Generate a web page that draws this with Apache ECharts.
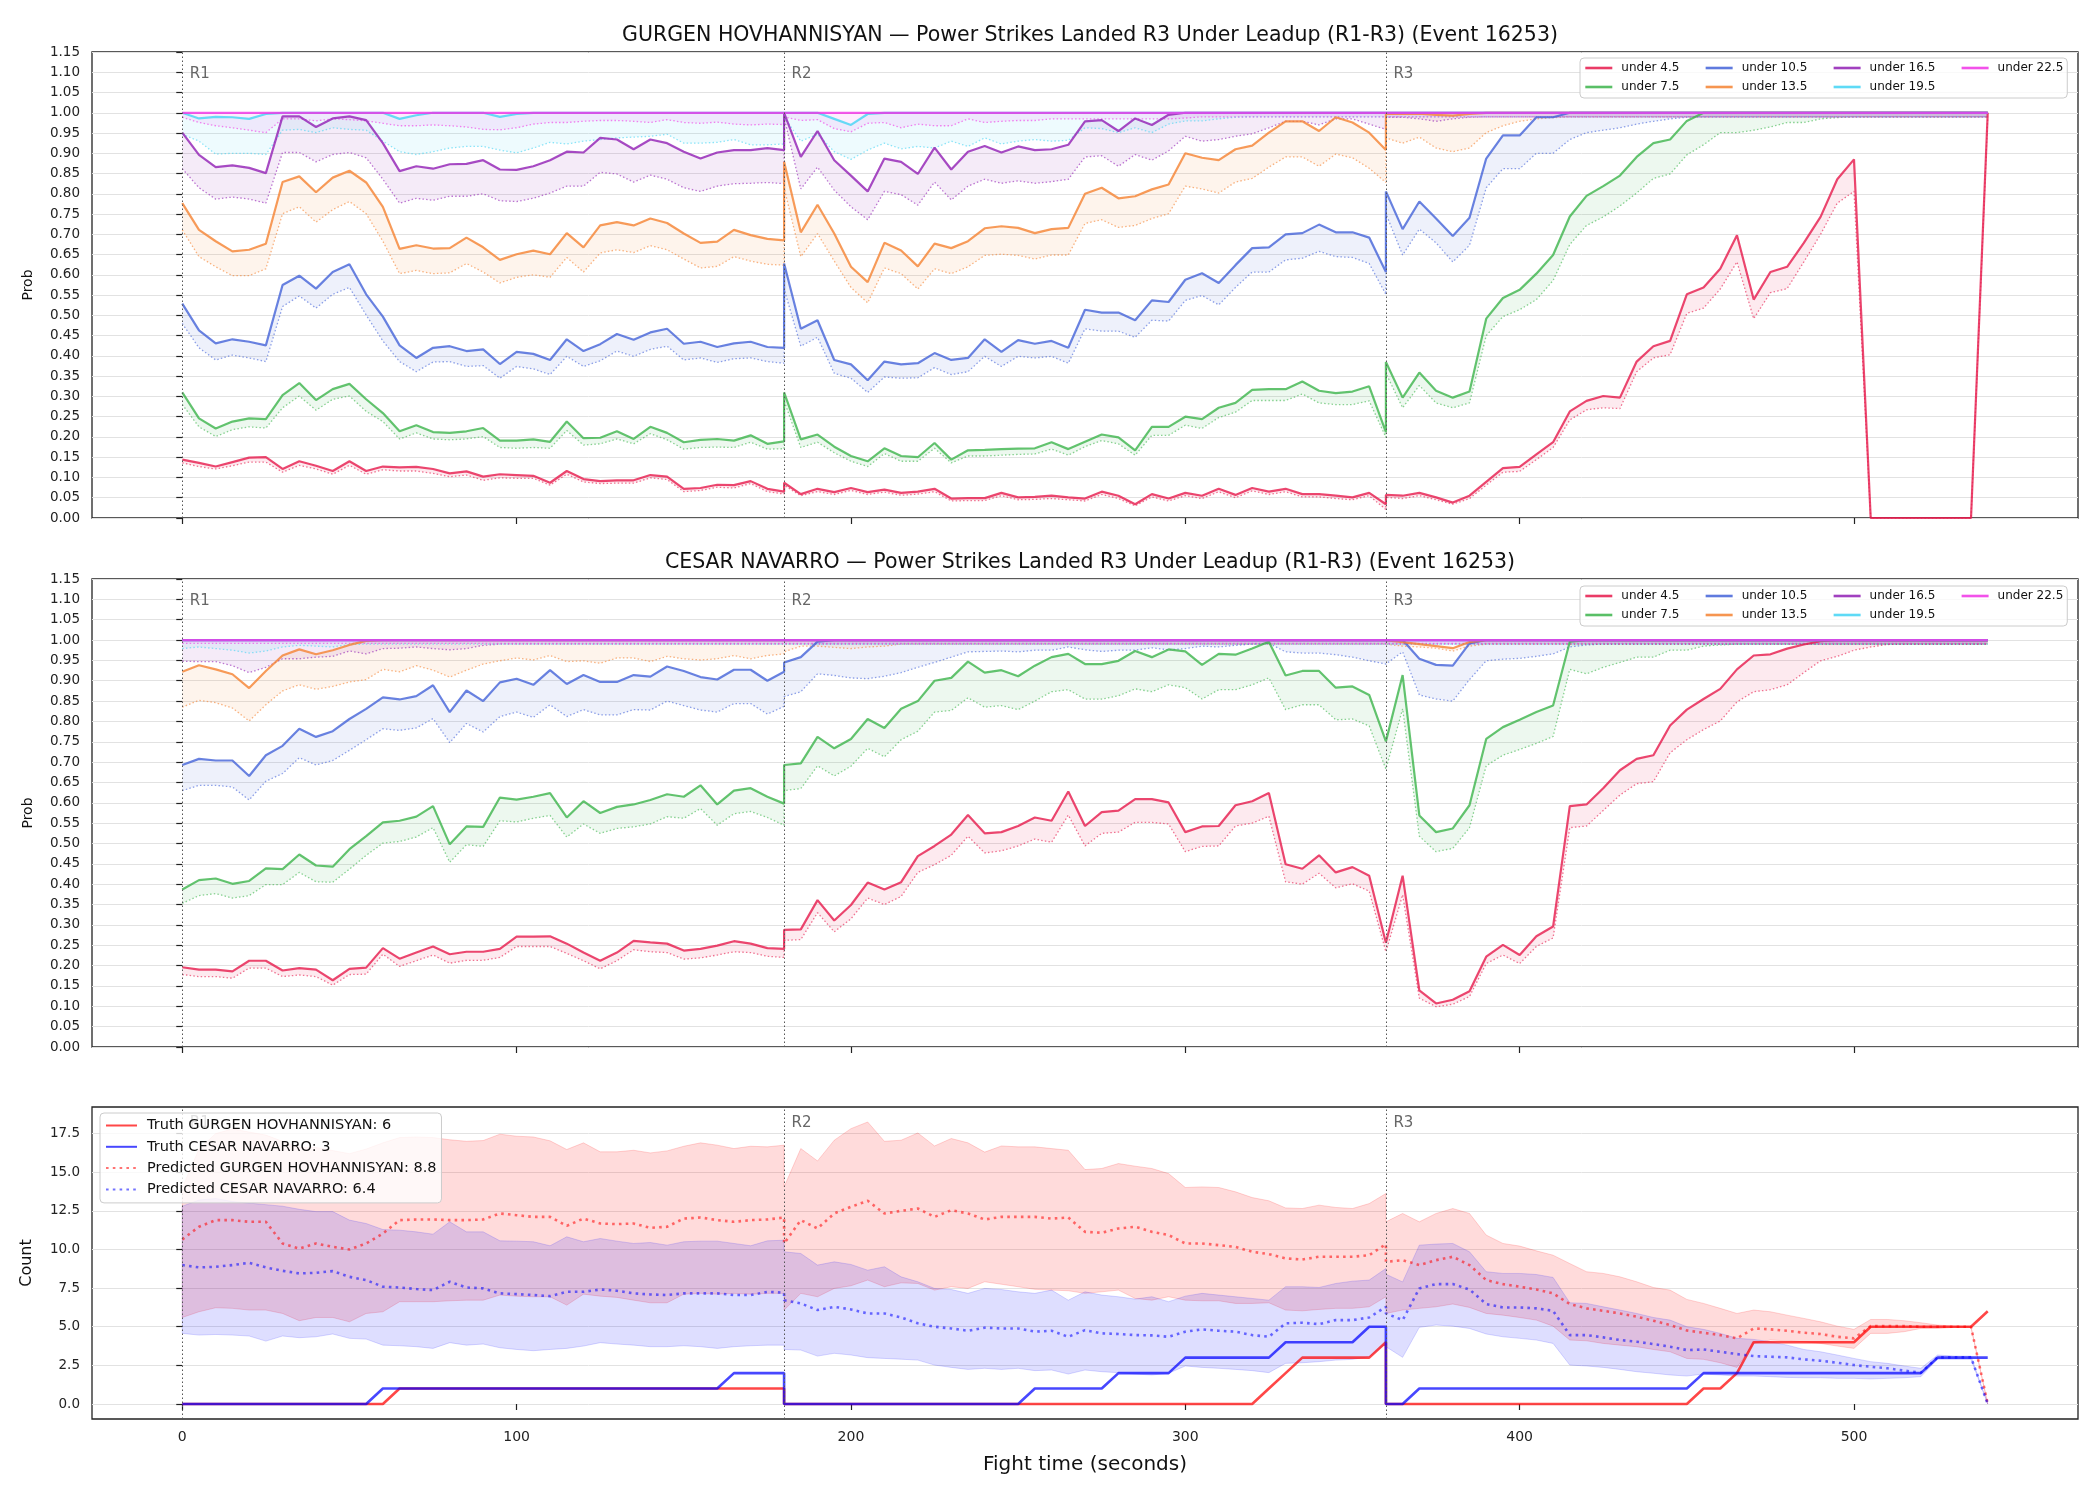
<!DOCTYPE html>
<html><head><meta charset="utf-8">
<script src="https://cdn.jsdelivr.net/npm/echarts@6/dist/echarts.min.js"></script>
<style>html,body{margin:0;padding:0;background:#fff}#c{width:2100px;height:1500px}</style>
</head><body><div id="c"></div><script>
// ---------------- DATA ----------------
const roundStarts = [0, 180, 360];
const roundSeconds = [0,5,10,15,20,25,30,35,40,45,50,55,60,65,70,75,80,85,90,95,100,105,110,115,120,125,130,135,140,145,150,155,160,165,170,175,180];
const roundNames = ['R1','R2','R3'];
const thresholds = ['under 4.5','under 7.5','under 10.5','under 13.5','under 16.5','under 19.5','under 22.5'];
const xTicks = [0,100,200,300,400,500];
const countTicks = [0,2.5,5,7.5,10,12.5,15,17.5];
const titleG = 'GURGEN HOVHANNISYAN — Power Strikes Landed R3 Under Leadup (R1-R3) (Event 16253)';
const titleC = 'CESAR NAVARRO — Power Strikes Landed R3 Under Leadup (R1-R3) (Event 16253)';

// GURGEN panel: main lines
const G_u45 = [0.144,0.136,0.127,0.138,0.149,0.150,0.121,0.140,0.129,0.116,0.140,0.116,0.127,0.125,0.126,0.121,0.110,0.115,0.102,0.108,0.106,0.104,0.087,0.116,0.096,0.091,0.093,0.093,0.106,0.102,0.072,0.074,0.082,0.081,0.091,0.072,0.065,
 0.087,0.059,0.072,0.064,0.074,0.064,0.070,0.062,0.065,0.072,0.048,0.049,0.049,0.062,0.051,0.052,0.055,0.051,0.048,0.065,0.055,0.034,0.059,0.048,0.062,0.055,0.072,0.057,0.074,0.065,0.072,0.059,0.059,0.055,0.051,0.062,0.034,
 0.057,0.055,0.062,0.051,0.038,0.055,0.089,0.123,0.126,0.157,0.187,0.263,0.289,0.301,0.297,0.386,0.424,0.437,0.552,0.569,0.615,0.698,0.539,0.607,0.620,0.679,0.743,0.836,0.885,0,0,0,0,0,0,0,1.0];
const G_u75 = [0.310,0.246,0.221,0.238,0.246,0.244,0.303,0.333,0.291,0.318,0.331,0.293,0.259,0.214,0.229,0.212,0.210,0.214,0.222,0.191,0.191,0.194,0.188,0.238,0.197,0.198,0.214,0.195,0.225,0.210,0.187,0.193,0.195,0.191,0.204,0.183,0.189,
 0.310,0.194,0.206,0.176,0.153,0.140,0.172,0.153,0.150,0.185,0.144,0.167,0.168,0.170,0.171,0.172,0.187,0.170,0.188,0.206,0.199,0.167,0.225,0.225,0.250,0.244,0.272,0.284,0.316,0.318,0.318,0.337,0.314,0.308,0.312,0.325,0.212,
 0.385,0.297,0.359,0.314,0.297,0.312,0.492,0.543,0.563,0.603,0.649,0.744,0.795,0.819,0.845,0.891,0.925,0.934,0.980,1,1,1,1,1,1,1,1,1,1,1,1,1,1,1,1,1,1];
const G_u105 = [0.529,0.463,0.431,0.441,0.435,0.426,0.575,0.598,0.566,0.607,0.626,0.552,0.497,0.426,0.395,0.420,0.424,0.412,0.416,0.380,0.410,0.405,0.390,0.441,0.412,0.429,0.454,0.440,0.458,0.467,0.430,0.435,0.422,0.431,0.435,0.422,0.420,
 0.628,0.467,0.488,0.390,0.379,0.340,0.386,0.379,0.382,0.407,0.390,0.395,0.441,0.410,0.439,0.430,0.437,0.420,0.514,0.507,0.507,0.488,0.537,0.533,0.588,0.604,0.580,0.624,0.666,0.668,0.700,0.703,0.724,0.705,0.705,0.692,0.607,
 0.806,0.713,0.781,0.739,0.696,0.741,0.887,0.944,0.944,0.989,0.989,1,1,1,1,1,1,1,1,1,1,1,1,1,1,1,1,1,1,1,1,1,1,1,1,1,1];
const G_u135 = [0.777,0.711,0.683,0.658,0.662,0.677,0.829,0.843,0.804,0.840,0.857,0.828,0.768,0.664,0.673,0.665,0.666,0.692,0.668,0.637,0.651,0.660,0.651,0.703,0.668,0.722,0.730,0.722,0.739,0.728,0.702,0.679,0.682,0.711,0.698,0.689,0.685,
 0.879,0.705,0.773,0.702,0.620,0.582,0.679,0.660,0.621,0.677,0.666,0.683,0.715,0.720,0.716,0.703,0.713,0.716,0.800,0.815,0.789,0.794,0.811,0.823,0.900,0.889,0.883,0.910,0.919,0.951,0.979,0.979,0.955,0.989,0.976,0.951,0.908,
 0.998,0.997,0.998,0.995,0.993,0.997,1,1,1,1,1,1,1,1,1,1,1,1,1,1,1,1,1,1,1,1,1,1,1,1,1,1,1,1,1,1,1];
const G_u165 = [0.951,0.896,0.866,0.870,0.864,0.851,0.991,0.991,0.965,0.986,0.991,0.982,0.925,0.856,0.868,0.862,0.873,0.874,0.883,0.860,0.859,0.868,0.883,0.904,0.902,0.938,0.934,0.910,0.934,0.925,0.904,0.887,0.902,0.908,0.908,0.913,0.908,
 1,0.891,0.955,0.883,0.845,0.806,0.887,0.879,0.849,0.914,0.860,0.904,0.918,0.902,0.917,0.908,0.910,0.921,0.979,0.982,0.955,0.986,0.970,0.995,1,1,1,1,1,1,1,1,1,1,1,1,1,
 1,1,1,1,1,1,1,1,1,1,1,1,1,1,1,1,1,1,1,1,1,1,1,1,1,1,1,1,1,1,1,1,1,1,1,1,1];
const G_u195 = [1,0.986,0.990,0.989,0.985,0.997,1,1,1,1,1,1,1,0.985,0.994,1,1,1,1,0.990,0.997,1,1,1,1,1,1,1,1,1,1,1,1,1,1,1,1,
 1,1,1,0.985,0.970,0.997,1,1,1,1,1,1,1,1,1,1,1,1,1,1,1,1,1,1,1,1,1,1,1,1,1,1,1,1,1,1,1,
 1,1,1,1,1,1,1,1,1,1,1,1,1,1,1,1,1,1,1,1,1,1,1,1,1,1,1,1,1,1,1,1,1,1,1,1,1];
const G_u225 = [1,1,1,1,1,1,1,1,1,1,1,1,1,1,1,1,1,1,1,1,1,1,1,1,1,1,1,1,1,1,1,1,1,1,1,1,1,
 1,1,1,1,1,1,1,1,1,1,1,1,1,1,1,1,1,1,1,1,1,1,1,1,1,1,1,1,1,1,1,1,1,1,1,1,1,
 1,1,1,1,1,1,1,1,1,1,1,1,1,1,1,1,1,1,1,1,1,1,1,1,1,1,1,1,1,1,1,1,1,1,1,1,1];
// GURGEN panel: lower (dotted) lines
const G_u45_lo = [0.136,0.127,0.121,0.129,0.138,0.138,0.113,0.130,0.121,0.108,0.130,0.108,0.119,0.116,0.116,0.110,0.102,0.106,0.093,0.099,0.098,0.098,0.081,0.108,0.089,0.085,0.086,0.086,0.099,0.095,0.065,0.068,0.076,0.074,0.085,0.065,0.059,
 0.081,0.055,0.065,0.058,0.068,0.058,0.064,0.056,0.059,0.065,0.042,0.043,0.043,0.055,0.045,0.046,0.048,0.045,0.042,0.058,0.048,0.030,0.052,0.042,0.055,0.048,0.065,0.050,0.067,0.058,0.065,0.052,0.052,0.048,0.045,0.055,0.021,
 0.051,0.048,0.055,0.045,0.034,0.048,0.081,0.113,0.115,0.144,0.174,0.242,0.267,0.272,0.270,0.361,0.395,0.403,0.505,0.518,0.565,0.632,0.492,0.556,0.566,0.632,0.700,0.777,0.806,0,0,0,0,0,0,0,0.99];
const G_u75_lo = [0.280,0.225,0.201,0.218,0.225,0.222,0.272,0.301,0.266,0.293,0.301,0.263,0.238,0.195,0.210,0.195,0.193,0.195,0.201,0.174,0.172,0.174,0.172,0.216,0.180,0.183,0.195,0.183,0.208,0.193,0.170,0.174,0.175,0.174,0.187,0.170,0.171,
 0.289,0.174,0.187,0.161,0.140,0.127,0.159,0.140,0.140,0.172,0.136,0.153,0.153,0.155,0.157,0.158,0.170,0.155,0.176,0.191,0.183,0.155,0.204,0.204,0.229,0.221,0.248,0.261,0.290,0.290,0.290,0.306,0.284,0.280,0.280,0.289,0.199,
 0.357,0.272,0.327,0.284,0.272,0.284,0.450,0.497,0.514,0.539,0.586,0.675,0.722,0.743,0.770,0.802,0.838,0.849,0.896,0.921,0.951,0.951,0.957,0.965,0.976,0.976,0.985,0.988,0.990,0.99,0.99,0.99,0.99,0.99,0.99,0.99,0.99];
const G_u105_lo = [0.480,0.420,0.390,0.402,0.395,0.386,0.522,0.548,0.518,0.552,0.569,0.501,0.437,0.386,0.361,0.385,0.386,0.374,0.376,0.345,0.374,0.368,0.354,0.399,0.374,0.388,0.412,0.399,0.416,0.424,0.390,0.395,0.384,0.393,0.395,0.386,0.382,
 0.565,0.424,0.446,0.357,0.345,0.310,0.348,0.345,0.346,0.371,0.354,0.361,0.399,0.374,0.399,0.395,0.399,0.382,0.467,0.461,0.461,0.446,0.488,0.486,0.537,0.549,0.526,0.569,0.607,0.607,0.637,0.641,0.658,0.645,0.643,0.628,0.552,
 0.751,0.649,0.713,0.679,0.632,0.673,0.815,0.862,0.862,0.900,0.900,0.934,0.951,0.957,0.963,0.972,0.979,0.985,0.989,0.99,0.99,0.99,0.99,0.99,0.99,0.99,0.99,0.99,0.99,0.99,0.99,0.99,0.99,0.99,0.99,0.99,0.99];
const G_u135_lo = [0.711,0.645,0.620,0.598,0.598,0.615,0.751,0.768,0.730,0.761,0.781,0.751,0.683,0.603,0.611,0.603,0.605,0.628,0.607,0.580,0.594,0.600,0.594,0.643,0.607,0.654,0.662,0.655,0.672,0.662,0.639,0.617,0.621,0.645,0.634,0.626,0.624,
 0.815,0.645,0.702,0.634,0.569,0.531,0.617,0.603,0.565,0.615,0.603,0.620,0.648,0.651,0.648,0.639,0.649,0.649,0.727,0.736,0.717,0.722,0.739,0.751,0.819,0.812,0.802,0.829,0.838,0.866,0.891,0.891,0.868,0.898,0.889,0.863,0.828,
 0.938,0.925,0.940,0.913,0.904,0.913,0.951,0.968,0.979,0.985,0.988,0.99,0.99,0.99,0.99,0.99,0.99,0.99,0.99,0.99,0.99,0.99,0.99,0.99,0.99,0.99,0.99,0.99,0.99,0.99,0.99,0.99,0.99,0.99,0.99,0.99,0.99];
const G_u165_lo = [0.862,0.815,0.787,0.792,0.787,0.777,0.902,0.902,0.879,0.897,0.902,0.889,0.836,0.777,0.789,0.784,0.794,0.794,0.800,0.783,0.781,0.789,0.802,0.819,0.819,0.853,0.849,0.829,0.846,0.836,0.815,0.806,0.819,0.825,0.826,0.828,0.825,
 0.989,0.812,0.866,0.809,0.768,0.736,0.806,0.798,0.772,0.829,0.785,0.819,0.836,0.826,0.832,0.826,0.830,0.836,0.891,0.894,0.868,0.897,0.883,0.906,0.942,0.930,0.934,0.942,0.948,0.963,0.979,0.979,0.970,0.985,0.985,0.972,0.959,
 0.989,0.989,0.985,0.979,0.985,0.989,0.99,0.99,0.99,0.99,0.99,0.99,0.99,0.99,0.99,0.99,0.99,0.99,0.99,0.99,0.99,0.99,0.99,0.99,0.99,0.99,0.99,0.99,0.99,0.99,0.99,0.99,0.99,0.99,0.99,0.99,0.99];
const G_u195_lo = [0.947,0.930,0.898,0.900,0.900,0.897,0.957,0.959,0.951,0.963,0.959,0.957,0.930,0.904,0.897,0.904,0.913,0.917,0.917,0.908,0.901,0.913,0.927,0.923,0.930,0.934,0.938,0.940,0.942,0.947,0.925,0.925,0.927,0.934,0.921,0.921,0.923,
 0.989,0.930,0.947,0.904,0.885,0.908,0.925,0.911,0.917,0.913,0.930,0.917,0.938,0.923,0.930,0.934,0.930,0.932,0.963,0.961,0.951,0.963,0.951,0.972,0.980,0.980,0.985,0.989,0.990,0.99,0.99,0.99,0.99,0.99,0.99,0.99,0.99,
 0.99,0.99,0.99,0.99,0.99,0.99,0.99,0.99,0.99,0.99,0.99,0.99,0.99,0.99,0.99,0.99,0.99,0.99,0.99,0.99,0.99,0.99,0.99,0.99,0.99,0.99,0.99,0.99,0.99,0.99,0.99,0.99,0.99,0.99,0.99,0.99,0.99];
const G_u225_lo = [0.989,0.976,0.968,0.963,0.957,0.951,0.985,0.985,0.980,0.985,0.983,0.980,0.974,0.968,0.968,0.970,0.968,0.965,0.959,0.958,0.963,0.972,0.976,0.976,0.979,0.981,0.981,0.979,0.976,0.983,0.976,0.974,0.977,0.972,0.970,0.972,0.971,
 0.990,0.981,0.983,0.961,0.953,0.974,0.976,0.963,0.972,0.968,0.968,0.985,0.976,0.979,0.981,0.981,0.985,0.985,0.985,0.985,0.985,0.985,0.985,0.985,0.987,0.99,0.99,0.99,0.99,0.99,0.99,0.99,0.99,0.99,0.99,0.99,0.99,
 0.99,0.99,0.99,0.99,0.99,0.99,0.99,0.99,0.99,0.99,0.99,0.99,0.99,0.99,0.99,0.99,0.99,0.99,0.99,0.99,0.99,0.99,0.99,0.99,0.99,0.99,0.99,0.99,0.99,0.99,0.99,0.99,0.99,0.99,0.99,0.99,0.99];

// CESAR panel: main lines
const C_u45 = [0.196,0.190,0.190,0.186,0.212,0.212,0.188,0.194,0.190,0.164,0.192,0.195,0.243,0.217,0.232,0.247,0.228,0.234,0.234,0.241,0.271,0.271,0.272,0.254,0.232,0.212,0.232,0.261,0.257,0.254,0.237,0.241,0.249,0.260,0.254,0.243,0.241,
 0.288,0.289,0.361,0.311,0.349,0.404,0.387,0.405,0.469,0.494,0.522,0.570,0.525,0.528,0.543,0.564,0.556,0.628,0.543,0.577,0.581,0.609,0.609,0.601,0.528,0.542,0.543,0.594,0.604,0.624,0.449,0.438,0.471,0.429,0.442,0.421,0.256,
 0.256,0.421,0.139,0.107,0.116,0.137,0.222,0.251,0.226,0.272,0.296,0.592,0.596,0.636,0.680,0.708,0.717,0.790,0.829,0.855,0.880,0.928,0.962,0.965,0.979,0.989,0.997,1,1,1,1,1,1,1,1,1,1];
const C_u75 = [0.387,0.410,0.414,0.401,0.408,0.439,0.437,0.473,0.446,0.443,0.486,0.518,0.552,0.556,0.566,0.592,0.498,0.542,0.541,0.613,0.608,0.615,0.624,0.564,0.604,0.575,0.590,0.596,0.607,0.621,0.615,0.643,0.596,0.630,0.636,0.615,0.598,
 0.693,0.697,0.762,0.734,0.757,0.806,0.784,0.831,0.850,0.900,0.907,0.947,0.920,0.926,0.911,0.937,0.958,0.966,0.941,0.941,0.949,0.973,0.958,0.977,0.972,0.939,0.966,0.964,0.979,0.996,0.913,0.924,0.924,0.883,0.886,0.865,0.751,
 0.751,0.914,0.569,0.528,0.537,0.594,0.757,0.786,0.804,0.823,0.839,0.996,1,1,1,1,1,1,1,1,1,1,1,1,1,1,1,1,1,1,1,1,1,1,1,1,1];
const C_u105 = [0.693,0.708,0.704,0.704,0.666,0.717,0.740,0.782,0.762,0.776,0.806,0.831,0.859,0.854,0.862,0.889,0.823,0.876,0.850,0.896,0.905,0.890,0.926,0.892,0.914,0.897,0.897,0.914,0.910,0.935,0.924,0.909,0.903,0.927,0.927,0.900,0.922,
 0.945,0.958,0.996,1,1,1,1,1,1,1,1,1,1,1,1,1,1,1,1,1,1,1,1,1,1,1,1,1,1,1,1,1,1,1,1,1,1,
 1,1,0.954,0.939,0.937,0.992,1,1,1,1,1,1,1,1,1,1,1,1,1,1,1,1,1,1,1,1,1,1,1,1,1,1,1,1,1,1,1];
const C_u135 = [0.922,0.938,0.928,0.916,0.882,0.924,0.962,0.977,0.965,0.975,0.988,0.998,1,1,1,1,1,1,1,1,1,1,1,1,1,1,1,1,1,1,1,1,1,1,1,1,1,
 1,1,1,1,1,1,1,1,1,1,1,1,1,1,1,1,1,1,1,1,1,1,1,1,1,1,1,1,1,1,1,1,1,1,1,1,1,
 1,0.995,0.990,0.985,0.980,0.995,1,1,1,1,1,1,1,1,1,1,1,1,1,1,1,1,1,1,1,1,1,1,1,1,1,1,1,1,1,1,1];
const C_u165 = [1,1,1,1,1,1,1,1,1,1,1,1,1,1,1,1,1,1,1,1,1,1,1,1,1,1,1,1,1,1,1,1,1,1,1,1,1,
 1,1,1,1,1,1,1,1,1,1,1,1,1,1,1,1,1,1,1,1,1,1,1,1,1,1,1,1,1,1,1,1,1,1,1,1,1,
 1,1,1,1,1,1,1,1,1,1,1,1,1,1,1,1,1,1,1,1,1,1,1,1,1,1,1,1,1,1,1,1,1,1,1,1,1];
const C_u195 = [1,1,1,1,1,1,1,1,1,1,1,1,1,1,1,1,1,1,1,1,1,1,1,1,1,1,1,1,1,1,1,1,1,1,1,1,1,
 1,1,1,1,1,1,1,1,1,1,1,1,1,1,1,1,1,1,1,1,1,1,1,1,1,1,1,1,1,1,1,1,1,1,1,1,1,
 1,1,1,1,1,1,1,1,1,1,1,1,1,1,1,1,1,1,1,1,1,1,1,1,1,1,1,1,1,1,1,1,1,1,1,1,1];
const C_u225 = [1,1,1,1,1,1,1,1,1,1,1,1,1,1,1,1,1,1,1,1,1,1,1,1,1,1,1,1,1,1,1,1,1,1,1,1,1,
 1,1,1,1,1,1,1,1,1,1,1,1,1,1,1,1,1,1,1,1,1,1,1,1,1,1,1,1,1,1,1,1,1,1,1,1,1,
 1,1,1,1,1,1,1,1,1,1,1,1,1,1,1,1,1,1,1,1,1,1,1,1,1,1,1,1,1,1,1,1,1,1,1,1,1];
// CESAR panel: lower (dotted) lines
const C_u45_lo = [0.178,0.173,0.173,0.169,0.194,0.194,0.173,0.177,0.173,0.152,0.178,0.179,0.228,0.198,0.212,0.226,0.206,0.213,0.213,0.220,0.247,0.247,0.247,0.230,0.212,0.192,0.212,0.239,0.234,0.232,0.216,0.219,0.226,0.234,0.232,0.223,0.220,
 0.262,0.264,0.330,0.283,0.315,0.366,0.350,0.370,0.429,0.448,0.471,0.518,0.477,0.482,0.494,0.511,0.503,0.570,0.494,0.525,0.528,0.552,0.552,0.548,0.480,0.493,0.494,0.543,0.550,0.567,0.406,0.400,0.427,0.391,0.401,0.383,0.234,
 0.234,0.374,0.120,0.099,0.105,0.124,0.205,0.226,0.205,0.247,0.268,0.539,0.543,0.581,0.619,0.647,0.652,0.723,0.755,0.780,0.801,0.848,0.873,0.878,0.890,0.920,0.949,0.960,0.975,0.983,0.989,0.99,0.99,0.99,0.99,0.99,0.99];
const C_u75_lo = [0.353,0.372,0.377,0.366,0.372,0.399,0.399,0.429,0.406,0.405,0.437,0.471,0.501,0.505,0.516,0.539,0.454,0.497,0.493,0.556,0.553,0.562,0.569,0.516,0.548,0.525,0.537,0.541,0.548,0.566,0.562,0.586,0.545,0.573,0.579,0.564,0.545,
 0.630,0.635,0.691,0.666,0.690,0.734,0.713,0.755,0.776,0.823,0.827,0.858,0.835,0.839,0.829,0.850,0.873,0.878,0.855,0.855,0.863,0.880,0.873,0.890,0.883,0.855,0.878,0.878,0.890,0.907,0.829,0.841,0.841,0.804,0.806,0.789,0.683,
 0.683,0.831,0.518,0.480,0.488,0.539,0.691,0.717,0.731,0.746,0.763,0.928,0.917,0.933,0.945,0.958,0.958,0.975,0.975,0.985,0.988,0.99,0.99,0.99,0.99,0.99,0.99,0.99,0.99,0.99,0.99,0.99,0.99,0.99,0.99,0.99,0.99];
const C_u105_lo = [0.630,0.643,0.643,0.639,0.607,0.653,0.672,0.711,0.693,0.704,0.729,0.755,0.782,0.778,0.784,0.807,0.748,0.795,0.774,0.812,0.823,0.810,0.841,0.812,0.829,0.816,0.816,0.829,0.828,0.850,0.839,0.828,0.823,0.844,0.844,0.818,0.837,
 0.861,0.873,0.917,0.913,0.907,0.905,0.911,0.920,0.933,0.945,0.958,0.971,0.972,0.973,0.971,0.975,0.975,0.983,0.976,0.972,0.975,0.975,0.981,0.976,0.979,0.985,0.983,0.987,0.990,0.992,0.971,0.968,0.968,0.964,0.958,0.949,0.941,
 0.941,0.971,0.865,0.855,0.850,0.903,0.949,0.953,0.955,0.960,0.966,0.983,0.988,0.990,0.99,0.99,0.99,0.99,0.99,0.99,0.99,0.99,0.99,0.99,0.99,0.99,0.99,0.99,0.99,0.99,0.99,0.99,0.99,0.99,0.99,0.99,0.99];
const C_u135_lo = [0.835,0.852,0.846,0.833,0.801,0.841,0.875,0.890,0.879,0.886,0.897,0.903,0.928,0.922,0.937,0.926,0.909,0.926,0.941,0.949,0.956,0.951,0.962,0.947,0.949,0.943,0.956,0.956,0.947,0.960,0.954,0.951,0.954,0.962,0.954,0.962,0.966,
 0.971,0.985,0.985,0.982,0.979,0.983,0.985,0.99,0.99,0.99,0.99,0.99,0.99,0.99,0.99,0.99,0.99,0.99,0.99,0.99,0.99,0.99,0.99,0.99,0.99,0.99,0.99,0.99,0.99,0.99,0.99,0.99,0.99,0.99,0.99,0.99,0.99,
 0.990,0.985,0.983,0.980,0.973,0.985,0.99,0.99,0.99,0.99,0.99,0.99,0.99,0.99,0.99,0.99,0.99,0.99,0.99,0.99,0.99,0.99,0.99,0.99,0.99,0.99,0.99,0.99,0.99,0.99,0.99,0.99,0.99,0.99,0.99,0.99,0.99];
const C_u165_lo = [0.948,0.947,0.947,0.937,0.920,0.933,0.954,0.954,0.958,0.960,0.973,0.966,0.979,0.980,0.983,0.979,0.976,0.979,0.987,0.99,0.99,0.99,0.99,0.99,0.99,0.99,0.99,0.99,0.99,0.99,0.99,0.99,0.99,0.99,0.99,0.99,0.99,
 0.99,0.99,0.99,0.99,0.99,0.99,0.99,0.99,0.99,0.99,0.99,0.99,0.99,0.99,0.99,0.99,0.99,0.99,0.99,0.99,0.99,0.99,0.99,0.99,0.99,0.99,0.99,0.99,0.99,0.99,0.99,0.99,0.99,0.99,0.99,0.99,0.99,
 0.99,0.99,0.99,0.99,0.99,0.99,0.99,0.99,0.99,0.99,0.99,0.99,0.99,0.99,0.99,0.99,0.99,0.99,0.99,0.99,0.99,0.99,0.99,0.99,0.99,0.99,0.99,0.99,0.99,0.99,0.99,0.99,0.99,0.99,0.99,0.99,0.99];
const C_u195_lo = [0.979,0.983,0.979,0.975,0.968,0.973,0.983,0.987,0.985,0.983,0.989,0.99,0.99,0.99,0.99,0.99,0.99,0.99,0.99,0.99,0.99,0.99,0.99,0.99,0.99,0.99,0.99,0.99,0.99,0.99,0.99,0.99,0.99,0.99,0.99,0.99,0.99,
 0.99,0.99,0.99,0.99,0.99,0.99,0.99,0.99,0.99,0.99,0.99,0.99,0.99,0.99,0.99,0.99,0.99,0.99,0.99,0.99,0.99,0.99,0.99,0.99,0.99,0.99,0.99,0.99,0.99,0.99,0.99,0.99,0.99,0.99,0.99,0.99,0.99,
 0.99,0.99,0.99,0.99,0.99,0.99,0.99,0.99,0.99,0.99,0.99,0.99,0.99,0.99,0.99,0.99,0.99,0.99,0.99,0.99,0.99,0.99,0.99,0.99,0.99,0.99,0.99,0.99,0.99,0.99,0.99,0.99,0.99,0.99,0.99,0.99,0.99];
const C_u225_lo = [0.992,0.992,0.992,0.992,0.992,0.992,0.992,0.992,0.992,0.992,0.992,0.992,0.992,0.992,0.992,0.992,0.992,0.992,0.992,0.992,0.992,0.992,0.992,0.992,0.992,0.992,0.992,0.992,0.992,0.992,0.992,0.992,0.992,0.992,0.992,0.992,0.992,
 0.992,0.992,0.992,0.992,0.992,0.992,0.992,0.992,0.992,0.992,0.992,0.992,0.992,0.992,0.992,0.992,0.992,0.992,0.992,0.992,0.992,0.992,0.992,0.992,0.992,0.992,0.992,0.992,0.992,0.992,0.992,0.992,0.992,0.992,0.992,0.992,0.992,
 0.992,0.992,0.992,0.992,0.992,0.992,0.992,0.992,0.992,0.992,0.992,0.992,0.992,0.992,0.992,0.992,0.992,0.992,0.992,0.992,0.992,0.992,0.992,0.992,0.992,0.992,0.992,0.992,0.992,0.992,0.992,0.992,0.992,0.992,0.992,0.992,0.992];

// Count panel
const truthG = [0,0,0,0,0,0,0,0,0,0,0,0,0,1,1,1,1,1,1,1,1,1,1,1,1,1,1,1,1,1,1,1,1,1,1,1,1,
 0,0,0,0,0,0,0,0,0,0,0,0,0,0,0,0,0,0,0,0,0,0,0,0,0,0,0,0,0,1,2,3,3,3,3,3,4,
 0,0,0,0,0,0,0,0,0,0,0,0,0,0,0,0,0,0,0,1,1,2,4,4,4,4,4,4,4,5,5,5,5,5,5,5,6];
const truthC = [0,0,0,0,0,0,0,0,0,0,0,0,1,1,1,1,1,1,1,1,1,1,1,1,1,1,1,1,1,1,1,1,1,2,2,2,2,
 0,0,0,0,0,0,0,0,0,0,0,0,0,0,0,1,1,1,1,1,2,2,2,2,3,3,3,3,3,3,4,4,4,4,4,5,5,
 0,0,1,1,1,1,1,1,1,1,1,1,1,1,1,1,1,1,1,2,2,2,2,2,2,2,2,2,2,2,2,2,2,3,3,3,3];
const predG = [10.65,11.47,11.9,11.9,11.79,11.79,10.39,10.06,10.39,10.17,10.0,10.39,11.03,11.9,11.94,11.94,11.9,11.9,11.94,12.33,12.22,12.11,12.11,11.53,12.0,11.68,11.64,11.68,11.4,11.47,12.0,12.07,11.9,11.79,11.9,11.94,12.07,
 10.39,11.9,11.36,12.33,12.76,13.15,12.33,12.5,12.65,12.11,12.54,12.33,11.94,12.11,12.11,12.11,12.0,12.07,11.14,11.08,11.36,11.47,11.14,10.93,10.39,10.39,10.28,10.17,9.85,9.7,9.42,9.35,9.53,9.53,9.53,9.63,10.34,
 9.2,9.31,8.99,9.31,9.53,8.99,8.02,7.76,7.59,7.41,7.16,6.47,6.19,6.03,5.86,5.65,5.39,5.11,4.76,4.61,4.46,4.25,4.89,4.83,4.74,4.61,4.53,4.35,4.25,5.04,5.04,5.04,5.0,5.0,5.0,5.0,0];
const predC = [8.99,8.84,8.88,8.99,9.14,8.84,8.62,8.45,8.49,8.60,8.23,8.02,7.59,7.54,7.44,7.37,7.91,7.54,7.48,7.16,7.11,7.05,6.98,7.26,7.26,7.41,7.33,7.16,7.09,7.05,7.16,7.16,7.16,7.05,7.05,7.26,7.20,
 6.72,6.51,6.08,6.29,6.12,5.86,5.86,5.60,5.22,5.0,4.89,4.74,4.94,4.89,4.89,4.68,4.74,4.35,4.78,4.57,4.53,4.46,4.44,4.35,4.68,4.83,4.74,4.68,4.46,4.35,5.22,5.26,5.17,5.43,5.43,5.6,6.29,
 5.86,5.43,7.48,7.76,7.76,7.41,6.47,6.25,6.25,6.19,6.03,4.46,4.46,4.31,4.14,4.03,3.88,3.71,3.49,3.53,3.38,3.23,3.10,3.06,3.02,2.89,2.80,2.67,2.52,2.41,2.31,2.16,2.03,3.02,3.02,3.02,0];
const bandG_lo = [5.6,5.97,6.23,6.19,6.08,6.08,5.86,5.39,5.6,5.6,5.32,5.86,5.97,6.62,6.62,6.62,6.68,6.72,6.72,7.05,6.98,6.94,6.94,6.4,7.11,6.98,6.9,6.72,6.55,6.55,7.11,7.16,7.11,7.16,7.11,7.16,7.16,
 6.08,7.16,6.94,7.48,7.65,8.02,7.59,7.84,7.8,7.37,7.59,7.48,7.91,7.75,7.59,7.42,7.37,7.33,7.16,7.26,7.37,6.83,6.72,6.94,6.72,6.68,6.68,6.51,6.51,6.55,6.08,6.03,6.12,6.19,6.19,6.29,6.94,
 5.86,6.08,6.19,6.29,6.47,6.25,5.86,5.75,5.6,5.43,5.04,4.14,4.09,3.92,3.81,3.71,3.53,3.38,2.95,2.89,2.67,2.37,3.92,4.14,4.09,4.03,3.92,3.75,3.6,4.57,4.57,4.68,4.89,4.89,4.96,4.96,0];
const bandG_hi = [14.0,16.5,17.5,17.8,17.6,17.4,17.0,16.6,16.6,16.4,16.2,16.5,16.9,17.24,17.28,17.24,17.1,17.0,17.05,17.46,17.33,17.28,17.03,16.47,16.9,16.32,16.32,16.42,16.25,16.38,16.68,16.9,16.75,16.53,16.68,16.64,16.75,
 14.05,16.53,15.73,17.07,17.82,18.25,17.0,17.07,17.54,16.7,17.18,16.9,16.3,16.7,16.64,16.64,16.53,16.42,15.17,15.24,15.56,15.39,15.24,14.91,14.01,14.05,14.01,13.73,13.36,13.15,12.69,12.65,12.87,12.72,12.65,12.97,13.62,
 11.79,12.33,11.79,12.33,12.65,12.33,10.93,10.39,10.22,9.91,9.63,9.09,8.56,8.45,8.23,7.91,7.54,7.37,6.77,6.51,6.19,5.86,6.08,5.97,5.75,5.54,5.32,5.04,4.83,5.47,5.47,5.39,5.26,5.11,5.04,5.0,0];
const bandC_lo = [4.57,4.46,4.5,4.46,4.4,4.07,4.4,4.29,4.35,4.53,4.25,4.2,3.81,3.77,3.71,3.6,3.97,3.81,3.88,3.64,3.53,3.45,3.53,3.6,3.75,3.97,3.88,3.81,3.71,3.71,3.77,3.71,3.6,3.71,3.77,3.81,3.81,
 3.53,3.49,3.1,3.28,3.17,3.0,2.95,2.9,2.84,2.52,2.37,2.24,2.31,2.24,2.31,2.16,2.2,1.94,2.2,2.09,2.03,1.94,1.88,1.99,2.46,2.37,2.31,2.24,2.16,2.03,2.63,2.67,2.74,2.84,2.89,3.06,3.92,
 3.71,3.02,4.96,5.11,5.04,4.89,4.53,4.35,4.25,4.14,3.92,2.52,2.46,2.37,2.24,2.09,1.99,1.88,1.81,1.94,1.88,1.81,1.81,1.77,1.72,1.7,1.7,1.66,1.66,1.62,1.66,1.7,1.77,2.89,2.89,2.89,0];
const bandC_hi = [12.8,13.2,13.3,13.1,13.0,12.9,12.8,12.6,12.45,12.45,11.9,11.68,11.29,11.25,11.14,10.99,11.79,11.14,11.14,10.56,10.54,10.5,10.24,10.82,10.5,10.71,10.54,10.39,10.45,10.28,10.5,10.54,10.54,10.39,10.24,10.56,10.6,
 9.85,9.74,8.99,9.2,9.03,8.66,8.88,8.23,7.91,7.48,7.41,7.16,7.48,7.41,7.26,7.16,7.37,6.72,7.26,7.05,6.94,6.79,6.94,6.62,6.98,7.16,7.05,6.94,6.83,6.72,7.59,7.59,7.54,7.8,7.95,8.02,8.77,
 8.4,7.9,10.28,10.35,10.39,9.85,8.56,8.45,8.45,8.38,8.19,6.55,6.51,6.29,6.08,5.86,5.6,5.43,5.0,4.83,4.57,4.25,4.18,4.03,3.81,3.53,3.38,3.17,2.95,2.74,2.63,2.46,2.31,3.17,3.1,3.1,0];

const legendNames = ['Truth GURGEN HOVHANNISYAN: 6','Truth CESAR NAVARRO: 3','Predicted GURGEN HOVHANNISYAN: 8.8','Predicted CESAR NAVARRO: 6.4'];

// ---------------- STYLE ----------------
const colors = ['#e6194b','#3cb44b','#4363d8','#f58231','#911eb4','#42d4f4','#f032e6'];
const FONT = 'DejaVu Sans';

function toPairs(vals){
  const out=[]; const n=roundSeconds.length;
  for(let r=0;r<roundStarts.length;r++) for(let i=0;i<n;i++) out.push([roundStarts[r]+roundSeconds[i], vals[r*n+i]]);
  return out;
}
function bandSeries(gi, hi, lo, fill, stroke){
  const up=toPairs(hi), dn=toPairs(lo);
  return {type:'custom', xAxisIndex:gi, yAxisIndex:gi, silent:true, z:1, data:[[0,0]],
    renderItem:function(params, api){
      const pts=[];
      for(let i=0;i<up.length;i++) pts.push(api.coord(up[i]));
      for(let i=dn.length-1;i>=0;i--) pts.push(api.coord(dn[i]));
      return {type:'polygon', shape:{points:pts}, style:{fill:fill, stroke:stroke, lineWidth:1}};
    }};
}
function hexA(h,a){const r=parseInt(h.slice(1,3),16),g=parseInt(h.slice(3,5),16),b=parseInt(h.slice(5,7),16);return 'rgba('+r+','+g+','+b+','+a+')';}
function roundMarks(yLab){
  return {
    markLine:{silent:true, symbol:'none', animation:false, label:{show:false},
      lineStyle:{color:'#555', width:1, type:[1.5,2.5]},
      data: roundStarts.map(t=>({xAxis:t}))},
    markPoint:{silent:true, symbol:'rect', symbolSize:1, itemStyle:{color:'rgba(0,0,0,0)'},
      label:{show:true, position:'right', distance:7, color:'#666', fontSize:15, fontFamily:FONT, formatter:p=>p.name},
      data: roundStarts.map((t,i)=>({name:roundNames[i], coord:[t,yLab]}))}
  };
}
function probPanel(gi, mains, lows){
  const s=[];
  for(let k=0;k<mains.length;k++) s.push(bandSeries(gi, mains[k], lows[k], hexA(colors[k],0.09), 'rgba(0,0,0,0)'));
  for(let k=0;k<lows.length;k++){
    const o={type:'line', name:thresholds[k]+' (low)', xAxisIndex:gi, yAxisIndex:gi, data:toPairs(lows[k]),
      symbol:'none', silent:true, z:3, lineStyle:{color:colors[k], width:1.3, type:[1.5,2.2], opacity:0.6}};
    if(k===0) Object.assign(o, roundMarks(1.095));
    s.push(o);
  }
  for(let k=0;k<mains.length;k++){
    s.push({type:'line', name:thresholds[k], xAxisIndex:gi, yAxisIndex:gi, data:toPairs(mains[k]),
      symbol:'none', showSymbol:false, z:4, itemStyle:{color:colors[k]}, lineStyle:{color:colors[k], width:2.2, opacity:0.8}});
  }
  return s;
}

const series = [].concat(
  probPanel(0,[G_u45,G_u75,G_u105,G_u135,G_u165,G_u195,G_u225],[G_u45_lo,G_u75_lo,G_u105_lo,G_u135_lo,G_u165_lo,G_u195_lo,G_u225_lo]),
  probPanel(1,[C_u45,C_u75,C_u105,C_u135,C_u165,C_u195,C_u225],[C_u45_lo,C_u75_lo,C_u105_lo,C_u135_lo,C_u165_lo,C_u195_lo,C_u225_lo]),
  [
    bandSeries(2, bandG_hi, bandG_lo, 'rgba(255,0,0,0.14)', 'rgba(255,0,0,0.16)'),
    bandSeries(2, bandC_hi, bandC_lo, 'rgba(0,0,255,0.13)', 'rgba(0,0,255,0.15)'),
    Object.assign({type:'line', name:legendNames[0], xAxisIndex:2, yAxisIndex:2, data:toPairs(truthG), symbol:'none', showSymbol:false, z:4,
      itemStyle:{color:'#ff0000'}, lineStyle:{color:'#ff0000', width:2.6, opacity:0.72}}, roundMarks(18.17)),
    {type:'line', name:legendNames[1], xAxisIndex:2, yAxisIndex:2, data:toPairs(truthC), symbol:'none', showSymbol:false, z:4,
      itemStyle:{color:'#0000ff'}, lineStyle:{color:'#0000ff', width:2.6, opacity:0.72}},
    {type:'line', name:legendNames[2], xAxisIndex:2, yAxisIndex:2, data:toPairs(predG), symbol:'none', showSymbol:false, z:4,
      itemStyle:{color:'#ff0000'}, lineStyle:{color:'#ff0000', width:2.6, opacity:0.55, type:[2.6,4.2]}},
    {type:'line', name:legendNames[3], xAxisIndex:2, yAxisIndex:2, data:toPairs(predC), symbol:'none', showSymbol:false, z:4,
      itemStyle:{color:'#0000ff'}, lineStyle:{color:'#0000ff', width:2.6, opacity:0.55, type:[2.6,4.2]}}
  ]
);

const gridBox = {show:true, borderColor:'#222', borderWidth:1.3, backgroundColor:'rgba(0,0,0,0)', containLabel:false};
const grids = [
  Object.assign({left:92, right:22, top:52, bottom:982}, gridBox),
  Object.assign({left:92, right:22, top:579, bottom:453}, gridBox),
  Object.assign({left:92, right:22, top:1107, bottom:81}, gridBox)
];
const xAxes = [0,1,2].map(gi=>({type:'value', gridIndex:gi, min:-27, max:567,
  axisLine:{show:false},
  axisTick:{show:true, customValues:xTicks, length:6, lineStyle:{color:'#222', width:1.2}},
  axisLabel:{show:gi===2, customValues:xTicks, fontSize:14, color:'#222', margin:11, fontFamily:FONT},
  splitLine:{show:false},
  name: gi===2 ? 'Fight time (seconds)' : '', nameLocation:'middle', nameGap:36,
  nameTextStyle:{fontSize:20, color:'#111', fontFamily:FONT}}));
const probY = gi=>({type:'value', gridIndex:gi, min:0, max:1.15, interval:0.05,
  axisLine:{show:false},
  axisTick:{show:true, length:6, lineStyle:{color:'#222', width:1.2}},
  axisLabel:{fontSize:13.5, color:'#222', margin:12, fontFamily:FONT, formatter:v=>v.toFixed(2)},
  splitLine:{show:true, lineStyle:{color:'#e2e2e2', width:1}},
  name:'Prob', nameLocation:'middle', nameGap:57, nameTextStyle:{fontSize:14, color:'#111', fontFamily:FONT}});
const yAxes = [probY(0), probY(1), {type:'value', gridIndex:2, min:-0.97, max:19.22,
  axisLine:{show:false},
  axisTick:{show:true, customValues:countTicks, length:6, lineStyle:{color:'#222', width:1.2}},
  axisLabel:{customValues:countTicks, fontSize:13.5, color:'#222', margin:12, fontFamily:FONT, formatter:v=>v.toFixed(1)},
  splitLine:{show:true, lineStyle:{color:'#e2e2e2', width:1}},
  name:'Count', nameLocation:'middle', nameGap:57, nameTextStyle:{fontSize:16, color:'#111', fontFamily:FONT}}];

const legBox = {backgroundColor:'rgba(255,255,255,0.8)', borderColor:'#cccccc', borderWidth:1, borderRadius:4};
const noSym = {opacity:0};
function probLegends(top){
  return [
    Object.assign({top:top, left:1580, orient:'horizontal', itemWidth:27, itemHeight:14, itemGap:25, padding:[4,4,24,4], z:20,
      selectedMode:false, itemStyle:noSym, lineStyle:{width:2.6, opacity:0.85},
      textStyle:{fontSize:12, color:'#111', fontFamily:FONT, padding:[0,0,0,4]},
      data:[thresholds[0],thresholds[2],thresholds[4],thresholds[6]]}, legBox),
    {top:top+23, left:1584, orient:'horizontal', itemWidth:27, itemHeight:14, itemGap:25, padding:0, z:21,
      selectedMode:false, itemStyle:noSym, lineStyle:{width:2.6, opacity:0.85},
      textStyle:{fontSize:12, color:'#111', fontFamily:FONT, padding:[0,0,0,4]},
      data:[thresholds[1],thresholds[3],thresholds[5]]}
  ];
}
const legends = [].concat(probLegends(58), probLegends(586), [
  Object.assign({top:1113, left:100, orient:'vertical', itemWidth:31, itemHeight:16, itemGap:6.3, padding:[5,5,6,5], z:20,
    selectedMode:false, itemStyle:noSym,
    textStyle:{fontSize:14.5, color:'#111', fontFamily:FONT, padding:[0,0,0,5]},
    data:legendNames}, legBox)
]);

const chart = echarts.init(document.getElementById('c'), null, {renderer:'canvas'});
chart.setOption({
  animation:false,
  backgroundColor:'#ffffff',
  textStyle:{fontFamily:FONT},
  title:[
    {text:titleG, left:1085, top:20, textAlign:'center', textStyle:{fontSize:20.5, fontWeight:'normal', color:'#111', fontFamily:FONT}},
    {text:titleC, left:1085, top:547, textAlign:'center', textStyle:{fontSize:20.5, fontWeight:'normal', color:'#111', fontFamily:FONT}}
  ],
  legend: legends,
  grid: grids,
  xAxis: xAxes,
  yAxis: yAxes,
  series: series
});
</script></body></html>
